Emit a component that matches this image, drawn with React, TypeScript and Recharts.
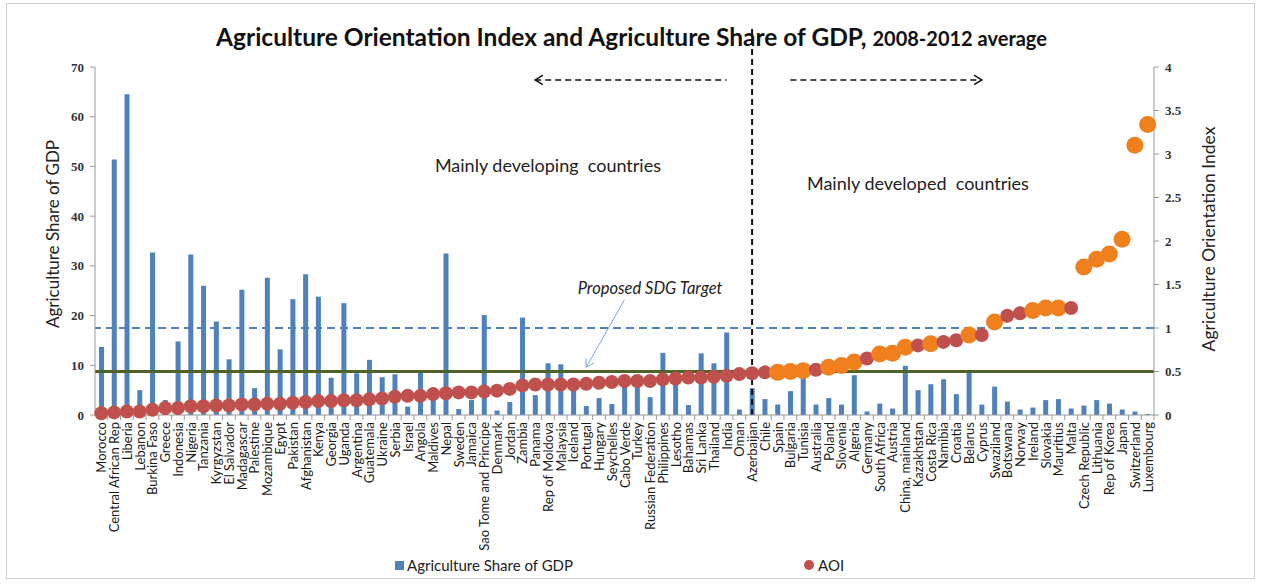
import React from "react";
import {
  ComposedChart,
  Bar,
  Line,
  XAxis,
  YAxis,
  ReferenceLine,
  ReferenceDot,
} from "recharts";

const countries = [
  "Morocco", "Central African Rep", "Liberia", "Lebanon", "Burkina Faso", "Greece",
  "Indonesia", "Nigeria", "Tanzania", "Kyrgyzstan", "El Salvador", "Madagascar",
  "Palestine", "Mozambique", "Egypt", "Pakistan", "Afghanistan", "Kenya", "Georgia",
  "Uganda", "Argentina", "Guatemala", "Ukraine", "Serbia", "Israel", "Angola",
  "Maldives", "Nepal", "Sweden", "Jamaica", "Sao Tome and Principe", "Denmark",
  "Jordan", "Zambia", "Panama", "Rep of Moldova", "Malaysia", "Iceland", "Portugal",
  "Hungary", "Seychelles", "Cabo Verde", "Turkey", "Russian Federation", "Philippines",
  "Lesotho", "Bahamas", "Sri Lanka", "Thailand", "India", "Oman", "Azerbaijan",
  "Chile", "Spain", "Bulgaria", "Tunisia", "Australia", "Poland", "Slovenia",
  "Algeria", "Germany", "South Africa", "Austria", "China, mainland", "Kazakhstan",
  "Costa Rica", "Namibia", "Croatia", "Belarus", "Cyprus", "Swaziland", "Botswana",
  "Norway", "Ireland", "Slovakia", "Mauritius", "Malta", "Czech Republic", "Lithuania",
  "Rep of Korea", "Japan", "Switzerland", "Luxembourg",
];

// Agriculture share of GDP (%)
const agriShare = [
  13.7, 51.4, 64.5, 5.0, 32.7, 3.0, 14.8, 32.3, 26.0, 18.8, 11.2, 25.2, 5.4, 27.6,
  13.2, 23.3, 28.3, 23.8, 7.5, 22.5, 8.4, 11.1, 7.6, 8.2, 1.7, 8.9, 3.5, 32.5, 1.2,
  3.0, 20.1, 0.9, 2.6, 19.6, 4.0, 10.4, 10.2, 5.5, 1.8, 3.4, 2.2, 6.3, 6.0, 3.6,
  12.5, 6.6, 2.0, 12.4, 10.4, 16.6, 1.1, 5.4, 3.2, 2.1, 4.8, 7.7, 2.1, 3.4, 2.1,
  8.0, 0.7, 2.3, 1.3, 9.9, 5.0, 6.2, 7.2, 4.2, 8.7, 2.1, 5.7, 2.7, 1.1, 1.5, 3.0,
  3.2, 1.3, 1.9, 3.0, 2.3, 1.1, 0.7, 0.2,
];

// Agriculture Orientation Index
const aoi = [
  0.02, 0.03, 0.04, 0.04, 0.06, 0.08, 0.08, 0.1, 0.1, 0.11, 0.11, 0.12, 0.12, 0.13,
  0.13, 0.14, 0.15, 0.16, 0.16, 0.17, 0.17, 0.18, 0.19, 0.21, 0.22, 0.22, 0.24, 0.25,
  0.26, 0.26, 0.27, 0.28, 0.3, 0.34, 0.35, 0.35, 0.35, 0.35, 0.36, 0.37, 0.38, 0.39,
  0.39, 0.39, 0.41, 0.42, 0.43, 0.43, 0.44, 0.45, 0.47, 0.48, 0.49, 0.49, 0.5, 0.51,
  0.52, 0.55, 0.57, 0.61, 0.65, 0.7, 0.71, 0.78, 0.8, 0.82, 0.84, 0.86, 0.92, 0.92,
  1.07, 1.14, 1.17, 1.2, 1.23, 1.23, 1.23, 1.7, 1.79, 1.85, 2.02, 3.1, 3.34,
];

// countries whose AOI marker is highlighted (orange) in the original
const highlighted = [
  "Spain", "Bulgaria", "Tunisia", "Poland", "Slovenia", "Algeria", "South Africa",
  "Austria", "China, mainland", "Costa Rica", "Belarus", "Swaziland", "Ireland",
  "Slovakia", "Mauritius", "Czech Republic", "Lithuania", "Rep of Korea", "Japan",
  "Switzerland", "Luxembourg",
];

const shareTicks = [0, 10, 20, 30, 40, 50, 60, 70];
const aoiTicks = [0, 0.5, 1, 1.5, 2, 2.5, 3, 3.5, 4];
const aoiParity = 1;
const sdgTarget = 0.5;
const splitCountry = "Azerbaijan";

const data = countries.map((country, i) => ({
  country,
  share: agriShare[i],
  aoi: aoi[i],
}));

const BLUE = "#4f81bd";
const RED = "#c0504d";
const ORANGE = "#f0801e";
const FONT = "Lato, 'Open Sans', sans-serif";

const W = 1263;
const H = 586;
const PLOT_LEFT = 95;
const PLOT_RIGHT = 1154;
const HALF_BAND = (PLOT_RIGHT - PLOT_LEFT) / countries.length / 2;

const CountryTick = (props: any) => {
  const { x, y, payload } = props;
  return (
    <g transform={`translate(${x},${y})`}>
      <line x1={HALF_BAND} x2={HALF_BAND} y1={-7} y2={-2} stroke="#999" />
      <text
        transform="rotate(-90)"
        textAnchor="end"
        dominantBaseline="central"
        fontSize={13}
        fontFamily={FONT}
        fill="#1a1a1a"
      >
        {payload.value}
      </text>
    </g>
  );
};

const arrow = (headAt: "start" | "end", color: string, width: number, dash?: string) => (p: any) => {
  const { x1, y1, x2, y2 } = p;
  if (x1 == null) return <g />;
  const [hx, hy, tx, ty] = headAt === "end" ? [x2, y2, x1, y1] : [x1, y1, x2, y2];
  const a = Math.atan2(hy - ty, hx - tx);
  const L = 9;
  const p1 = `${hx - L * Math.cos(a - 0.55)},${hy - L * Math.sin(a - 0.55)}`;
  const p2 = `${hx - L * Math.cos(a + 0.55)},${hy - L * Math.sin(a + 0.55)}`;
  return (
    <g>
      <line x1={x1} y1={y1} x2={x2} y2={y2} stroke={color} strokeWidth={width} strokeDasharray={dash} />
      <polyline points={`${p1} ${hx},${hy} ${p2}`} fill="none" stroke={color} strokeWidth={width} />
    </g>
  );
};

const textShape = (value: string, size: number, italic = false) => (p: any) => (
  <text
    x={p.cx}
    y={p.cy}
    textAnchor="middle"
    dominantBaseline="central"
    fontSize={size}
    fontStyle={italic ? "italic" : "normal"}
    fontFamily={FONT}
    fill="#222"
    style={{ whiteSpace: "pre" }}
  >
    {value}
  </text>
);

const renderAoiDot = (props: any) => {
  const { cx, cy, payload, index } = props;
  if (cx == null || cy == null) return <g key={index} />;
  const hl = highlighted.includes(payload.country);
  return <circle key={index} cx={cx} cy={cy} r={hl ? 8.5 : 7} fill={hl ? ORANGE : RED} />;
};

export default function App() {
  return (
    <div style={{ position: "absolute", left: 0, top: 0, width: W, height: H, background: "#fff", fontFamily: FONT }}>
      <div
        style={{
          position: "absolute",
          left: 6,
          top: 3,
          width: W - 14,
          height: H - 10,
          border: "1px solid #cfcfcf",
          boxSizing: "border-box",
        }}
      />
      <ComposedChart
        width={W}
        height={H}
        data={data}
        margin={{ top: 67, right: W - PLOT_RIGHT - 55, bottom: 31, left: PLOT_LEFT - 55 }}
      >
        <XAxis
          dataKey="country"
          interval={0}
          height={140}
          tick={<CountryTick />}
          tickLine={false}
          tickSize={5}
          tickMargin={2}
          axisLine={{ stroke: "#999" }}
        />
        <YAxis
          yAxisId="left"
          width={55}
          domain={[0, 70]}
          ticks={shareTicks}
          interval={0}
          tick={{ fontSize: 13, fontWeight: "bold", fontFamily: "'Liberation Serif', serif", fill: "#333" }}
          tickSize={5}
          tickMargin={6}
          axisLine={{ stroke: "#999" }}
          tickLine={{ stroke: "#999" }}
          label={{
            content: (p: any) => {
              const vb = p.viewBox;
              const cx = vb.x + 12;
              const cy = vb.y + vb.height / 2 - 7;
              return (
                <text
                  transform={`translate(${cx},${cy}) rotate(-90)`}
                  textAnchor="middle"
                  dominantBaseline="central"
                  fontSize={17}
                  fontFamily={FONT}
                  fill="#222"
                >
                  Agriculture Share of GDP
                </text>
              );
            },
          }}
        />
        <YAxis
          yAxisId="right"
          orientation="right"
          width={55}
          domain={[0, 4]}
          ticks={aoiTicks}
          interval={0}
          tick={{ fontSize: 13, fontWeight: "bold", fontFamily: "'Liberation Serif', serif", fill: "#333" }}
          tickSize={5}
          tickMargin={6}
          axisLine={{ stroke: "#999" }}
          tickLine={{ stroke: "#999" }}
          label={{
            content: (p: any) => {
              const vb = p.viewBox;
              const cx = vb.x + 54;
              const cy = vb.y + vb.height / 2 - 2;
              return (
                <text
                  transform={`translate(${cx},${cy}) rotate(-90)`}
                  textAnchor="middle"
                  dominantBaseline="central"
                  fontSize={17.5}
                  fontFamily={FONT}
                  fill="#222"
                >
                  Agriculture Orientation Index
                </text>
              );
            },
          }}
        />
        <Bar yAxisId="left" dataKey="share" fill={BLUE} barSize={5} isAnimationActive={false} />
        <ReferenceLine yAxisId="right" y={aoiParity} stroke={BLUE} strokeWidth={2} strokeDasharray="8 5" />
        <ReferenceLine yAxisId="right" y={sdgTarget} stroke="#4f6228" strokeWidth={3} />
        <Line
          yAxisId="right"
          dataKey="aoi"
          stroke="none"
          dot={renderAoiDot}
          activeDot={false}
          isAnimationActive={false}
        />
        <ReferenceLine
          yAxisId="left"
          ifOverflow="visible"
          segment={[{ x: splitCountry, y: 0 }, { x: splitCountry, y: 78 }]}
          stroke="#111"
          strokeWidth={2}
          strokeDasharray="6 4"
        />
        <ReferenceLine
          yAxisId="left"
          ifOverflow="visible"
          segment={[{ x: "Panama", y: 67.4 }, { x: "India", y: 67.4 }]}
          shape={arrow("start", "#111", 1.5, "6 4")}
        />
        <ReferenceLine
          yAxisId="left"
          ifOverflow="visible"
          segment={[{ x: "Bulgaria", y: 67.4 }, { x: "Cyprus", y: 67.4 }]}
          shape={arrow("end", "#111", 1.5, "6 4")}
        />
        <ReferenceLine
          yAxisId="left"
          ifOverflow="visible"
          segment={[{ x: "Cabo Verde", y: 23.2 }, { x: "Portugal", y: 9.6 }]}
          shape={arrow("end", "#7aa6d6", 1)}
        />
        <ReferenceDot
          yAxisId="left"
          x="Rep of Moldova"
          y={50.3}
          r={0}
          ifOverflow="visible"
          shape={textShape("Mainly developing  countries", 18)}
        />
        <ReferenceDot
          yAxisId="left"
          x="Kazakhstan"
          y={46.7}
          r={0}
          ifOverflow="visible"
          shape={textShape("Mainly developed  countries", 18)}
        />
        <ReferenceDot
          yAxisId="left"
          x="Russian Federation"
          y={25.5}
          r={0}
          ifOverflow="visible"
          shape={textShape("Proposed SDG Target", 16.5, true)}
        />
      </ComposedChart>
      <div
        style={{
          position: "absolute",
          left: 0,
          top: 22,
          width: W,
          textAlign: "center",
          fontWeight: "bold",
          color: "#111",
          whiteSpace: "nowrap",
        }}
      >
        <span style={{ fontSize: 24.5 }}>Agriculture Orientation Index and Agriculture Share of GDP, </span>
        <span style={{ fontSize: 20 }}>2008-2012 average</span>
      </div>
      <div style={{ position: "absolute", left: 395, top: 556, display: "flex", alignItems: "center", fontSize: 15, color: "#222" }}>
        <span style={{ width: 9, height: 9, background: BLUE, display: "inline-block", marginRight: 3 }} />
        <span>Agriculture Share of GDP</span>
      </div>
      <div style={{ position: "absolute", left: 804, top: 556, display: "flex", alignItems: "center", fontSize: 15, color: "#222" }}>
        <span style={{ width: 10, height: 10, borderRadius: 5, background: RED, display: "inline-block", marginRight: 4 }} />
        <span>AOI</span>
      </div>
    </div>
  );
}
